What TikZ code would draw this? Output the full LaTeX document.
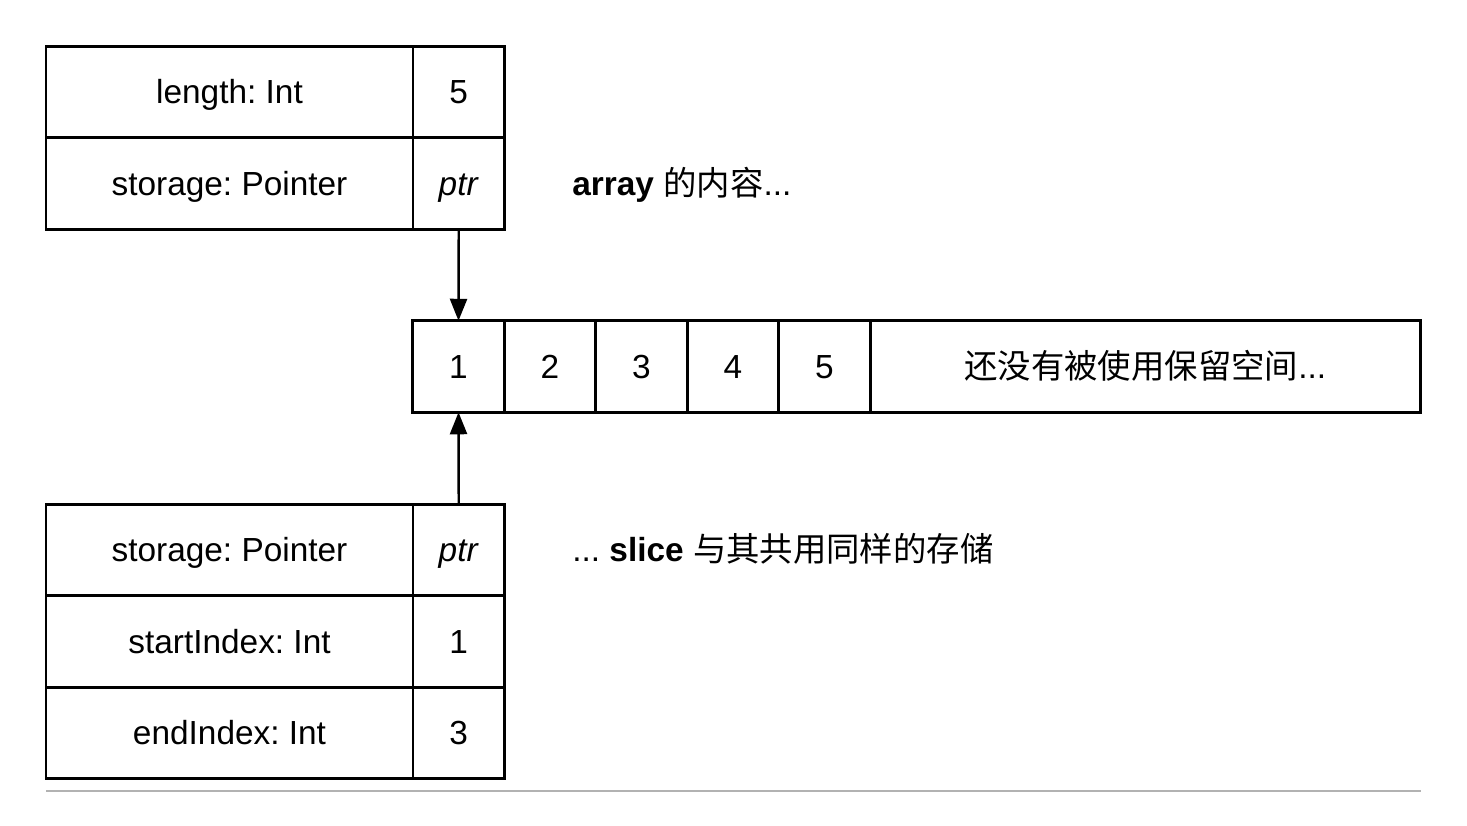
\documentclass[tikz,border=0pt]{standalone}
\usepackage{fontspec}
\setmainfont{Liberation Sans}
\newfontfamily\cjk{Noto Sans CJK SC}
\usetikzlibrary{positioning, arrows.meta}
\frenchspacing

\tikzset{
  cell/.style={draw, line width=1.6pt, minimum width=1.83cm, minimum height=1.83cm, inner sep=0pt, outer sep=0pt, text height=13.6pt, text depth=0pt, font=\fontsize{19pt}{22pt}\selectfont},
  field/.style={cell, minimum width=7.34cm},
  ptrarrow/.style={line width=1.4pt, -{Triangle[length=0.44cm, width=0.34cm]}},
  note/.style={anchor=west, inner sep=0pt, font=\fontsize{19pt}{22pt}\selectfont}
}

\begin{document}
\begin{tikzpicture}
\useasboundingbox (0,0) rectangle (29.34,-16.5);
% the array itself
\node[field] (lenL) at (4.59,-1.84) {length: Int};
\node[cell, right=0pt of lenL] (lenV) {5};
\node[field, below=0pt of lenL] (stoL) {storage: Pointer};
\node[cell, right=0pt of stoL] (stoV) {\textit{ptr}};
\node[note] (arrNote) at (11.44,-3.7) {\textbf{array} {\cjk 的内容}...};
% the storage
\node[cell] (c1) at (9.17,-7.33) {1};
\foreach \i [evaluate=\i as \j using int(\i-1)] in {2,...,5}
  \node[cell, right=0pt of c\j] (c\i) {\i};
\node[cell, minimum width=11cm, right=0pt of c5] (spare) {{\cjk 还没有被使用保留空间}...};
% the slice
\node[field] (sStoL) at (4.59,-11.0) {storage: Pointer};
\node[cell, right=0pt of sStoL] (sStoV) {\textit{ptr}};
\node[field, below=0pt of sStoL] (startL) {startIndex: Int};
\node[cell, right=0pt of startL] (startV) {1};
\node[field, below=0pt of startL] (endL) {endIndex: Int};
\node[cell, right=0pt of endL] (endV) {3};
\node[note] (sliceNote) at (11.44,-10.98) {... \textbf{slice} {\cjk 与其共用同样的存储}};
\path[ptrarrow]
  (stoV.south) edge (c1.north)
  (sStoV.north) edge (c1.south)
;
\draw[black!30, line width=0.6pt] (0.92,-15.82) -- (28.42,-15.82);
\end{tikzpicture}
\end{document}
